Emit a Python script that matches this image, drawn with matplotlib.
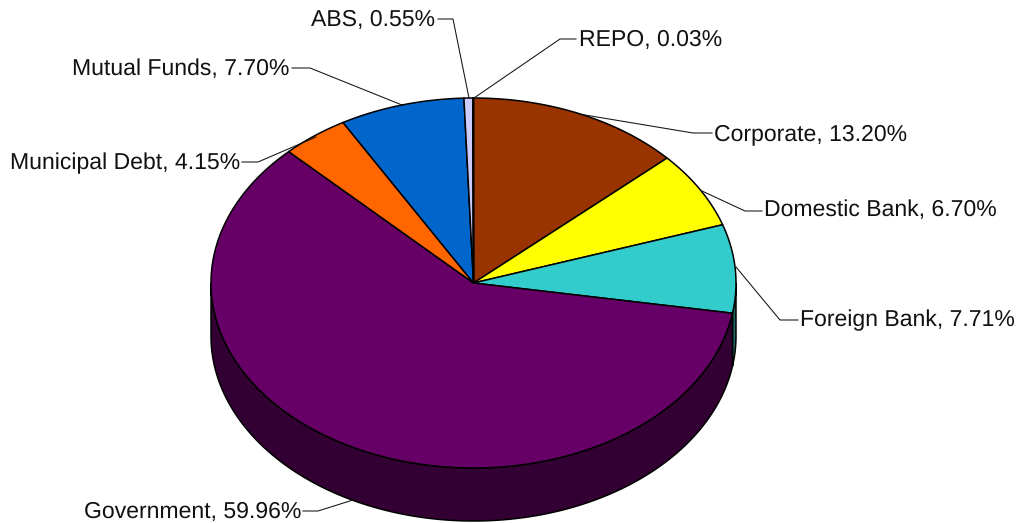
import numpy as np
import matplotlib
matplotlib.use("Agg")
import matplotlib.pyplot as plt
from matplotlib.patches import Polygon

plt.rcParams['font.family'] = ['Liberation Sans', 'DejaVu Sans']
plt.rcParams['text.hinting'] = 'no_hinting'
plt.rcParams['text.hinting_factor'] = 1

names = ['Corporate', 'Domestic Bank', 'Foreign Bank', 'Government',
         'Municipal Debt', 'Mutual Funds', 'ABS', 'REPO']
values = [13.20, 6.70, 7.71, 59.96, 4.15, 7.70, 0.55, 0.03]
top_colors = ['#993300', '#FFFF00', '#33CCCC', '#660066',
              '#FF6600', '#0066CC', '#CCCCFF', '#FFFFFF']
side_colors = ['#4D1A00', '#808000', '#1A6666', '#330033',
               '#803300', '#003366', '#666680', '#808080']

W, H = 1018, 523
cx, cy = 473.5, 283
rx, ry = 262.5, 185
depth = 53

fig = plt.figure(figsize=(W / 100, H / 100), dpi=100)
ax = fig.add_axes([0, 0, 1, 1])

# front wall first, only the part of each slice facing us
edges = np.cumsum([0] + values) / sum(values) * 2 * np.pi
for i in range(len(values)):
    a0, a1 = edges[i], edges[i + 1]
    lo, hi = max(a0, np.pi / 2), min(a1, 3 * np.pi / 2)
    if hi <= lo:
        continue
    t = np.linspace(lo, hi, 200)
    xs = cx + rx * np.sin(t)
    ys = cy - ry * np.cos(t)
    pts = np.r_[np.c_[xs, ys], np.c_[xs, ys + depth][::-1]]
    ax.add_patch(Polygon(pts, closed=True, fc=side_colors[i], ec='black', lw=1.1, zorder=1))

# top face
for i in range(len(values)):
    t = np.linspace(edges[i], edges[i + 1], 300)
    xs = cx + rx * np.sin(t)
    ys = cy - ry * np.cos(t)
    pts = np.r_[[[cx, cy]], np.c_[xs, ys]]
    ax.add_patch(Polygon(pts, closed=True, fc=top_colors[i], ec='black', lw=1.1, zorder=2))

# labels: text anchor, elbow, tip on the pie
labels = [
    ('right', 435, 20.5, [(438, 19), (453, 19), (469, 98)], 6),
    ('left', 579, 40, [(576, 39), (560, 39), (474, 98)], 7),
    ('left', 714, 134.5, [(712, 133), (693, 133), (579, 114)], 0),
    ('left', 764, 210.5, [(762, 211), (745, 211), (702, 191)], 1),
    ('left', 800, 320.5, [(798, 320), (780, 320), (736, 267)], 2),
    ('right', 301, 512.5, [(303, 511), (318, 511), (353, 500)], 3),
    ('right', 240, 163.5, [(242, 162), (258, 162), (316, 137)], 4),
    ('right', 289, 69.5, [(292, 68), (310, 68), (402, 105)], 5),
]
for ha, tx, ty, line, i in labels:
    ax.plot(*zip(*line), color='#111111', lw=0.75, zorder=3)
    ax.text(tx, ty, f'{names[i]}, {values[i]:.2f}%', ha=ha, va='center',
            fontsize=16.45, color='#111111', zorder=4)

ax.set_xlim(0, W)
ax.set_ylim(H, 0)
ax.axis('off')
fig.savefig('out.png', dpi=100)
